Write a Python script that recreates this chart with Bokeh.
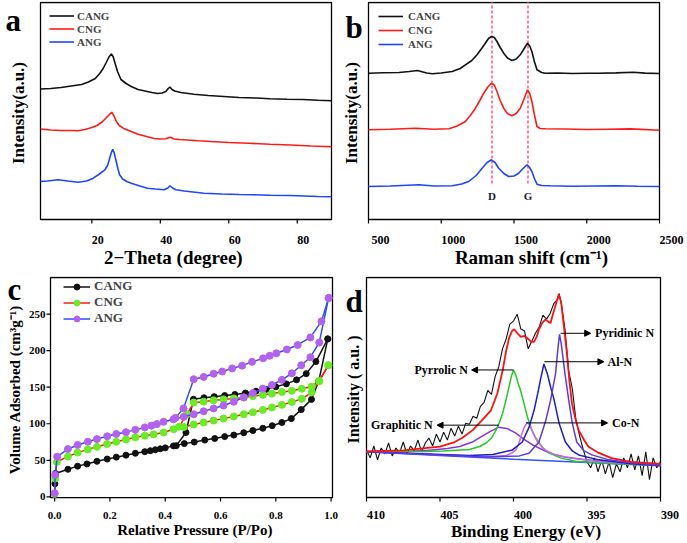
from bokeh.plotting import figure
from bokeh.layouts import column, row
from bokeh.models import (Range1d, Label, Legend, LegendItem, FixedTicker, Arrow, NormalHead,
                          NumeralTickFormatter, LinearAxis)
from bokeh.embed import file_html
from bokeh.resources import INLINE

FONT = "Liberation Serif"

# ---------------- panel a : XRD ----------------
xrd_cang_x = [5, 8, 11, 14, 17, 19, 21, 22.3, 23.3, 24.2, 25.0, 25.7, 26.2, 26.8, 27.5, 28.5, 30, 31.5, 33.5,
              35.5, 37.5, 39.2, 40.5, 41.6, 42.3, 42.8, 43.4, 44.2, 46, 49.8, 54, 58.5, 63, 68, 72, 77, 81.7, 86, 90]
xrd_cang_y = [130.5, 131, 132, 133.5, 135, 137.5, 141, 146, 151, 157, 162.5, 165.5, 163, 156, 148, 140, 136, 133,
              130, 128.5, 127, 126, 126.5, 128, 131, 132.5, 130, 128.5, 127, 125.3, 124, 123, 122, 121.5, 120.8,
              120.3, 120, 119.3, 118.7]
xrd_cng_x = [5, 8, 11, 14, 16, 18, 20, 21.5, 23, 24, 25, 25.8, 26.4, 27.1, 28, 29.5, 31.5, 33.5, 36, 38.2, 40,
             41.6, 42.9, 44, 45.5, 48, 51, 54.7, 60, 66, 72, 78, 84, 90]
xrd_cng_y = [90.5, 89.5, 89, 89, 88.8, 90, 92, 94, 97.5, 101, 104.5, 107.3, 104, 98.5, 94, 90.7, 88, 85.3, 83,
             81, 80.5, 80.7, 82.3, 80.5, 80, 79.5, 78.8, 78, 77, 76.2, 75.3, 74.5, 73.5, 72.7]
xrd_ang_x = [5, 7, 10.2, 13, 16, 18.5, 20.4, 22, 23.8, 24.6, 25.2, 25.7, 26.1, 26.5, 27.0, 27.6, 28.1, 29, 30.2,
             31.5, 34, 36.3, 38.5, 41.1, 42.2, 42.8, 43.6, 44.5, 47, 52.7, 58, 63, 67.2, 72, 77.8, 82, 86, 90]
xrd_ang_y = [38, 38.5, 39.7, 38.5, 37.3, 38.5, 41.3, 45, 49.7, 54, 61.3, 67, 70.3, 67, 59.7, 51, 44.7, 40.5, 38,
             36.3, 33.5, 31.3, 30.5, 29.7, 31.5, 33.7, 31.5, 29.7, 28.5, 26.3, 25.5, 25, 24.7, 24.3, 24, 23.5, 23,
             22.7]
xrd_ticks = [20, 40, 60, 80]

# ---------------- panel b : Raman ----------------
ram_cang_x = [500, 600, 710, 780, 836, 900, 938, 1000, 1075, 1130, 1166, 1210, 1246, 1275, 1303, 1325, 1345, 1365,
              1383, 1405, 1429, 1455, 1486, 1515, 1543, 1570, 1593, 1608, 1623, 1640, 1658, 1690, 1715, 1800, 1900,
              2000, 2080, 2200, 2320, 2400, 2500]
ram_cang_y = [146.3, 146.8, 147, 148, 149, 146.5, 145.7, 146.5, 148, 151, 154.7, 159, 164.7, 170.5, 176.3, 181,
              183, 182, 178, 172, 166.3, 161.5, 159, 160.5, 164.7, 171, 176.3, 173.5, 168, 158, 149.7, 147, 146.3,
              146.5, 146, 146.3, 146.3, 146.6, 147.3, 146.4, 146]
ram_cng_x = [500, 650, 824, 950, 1052, 1110, 1166, 1200, 1235, 1265, 1292, 1320, 1345, 1365, 1383, 1405, 1429,
             1455, 1486, 1515, 1543, 1570, 1593, 1608, 1623, 1640, 1658, 1680, 1715, 1850, 2000, 2150, 2300, 2500]
ram_cng_y = [89.7, 90.3, 91.3, 90.3, 90.7, 93.5, 98, 104, 111.3, 119, 126.3, 132.5, 136.3, 134.5, 128, 119, 111.3,
             106, 103.7, 106, 111.3, 121, 129.7, 126, 118, 105, 93, 91, 90.7, 90.5, 90, 90.3, 90.6, 89.3]
ram_ang_x = [500, 650, 847, 950, 1075, 1140, 1189, 1240, 1281, 1315, 1345, 1370, 1395, 1430, 1463, 1500, 1532,
             1562, 1589, 1605, 1623, 1640, 1658, 1690, 1750, 1900, 2050, 2200, 2350, 2500]
ram_ang_y = [33, 33.5, 34.7, 33.5, 33.7, 35.5, 38, 44, 51.3, 57, 59.7, 57, 51.3, 46, 43, 43.5, 46.3, 51, 54.7,
             52.5, 48, 41, 35.3, 34, 33.7, 33.2, 33.5, 33.8, 33.2, 33]
ram_band_names = ["D", "G"]
ram_band_pos = [1349, 1596]
ram_band_label_y = [24, 24]
ram_ticks = [500, 1000, 1500, 2000, 2500]

# ---------------- panel c : N2 isotherms ----------------
cang_ads_x = [0.0, 0.001, 0.003, 0.048, 0.083, 0.117, 0.153, 0.19, 0.223, 0.258, 0.292, 0.326, 0.346, 0.364,
              0.382, 0.40, 0.43, 0.469, 0.505, 0.543, 0.579, 0.615, 0.648, 0.684, 0.717, 0.753, 0.787, 0.822,
              0.856, 0.892, 0.929, 0.955, 0.988]
cang_ads_y = [5, 18, 32, 37.7, 42, 45, 48.6, 51.7, 54.3, 57, 59.6, 61.8, 63.1, 64.4, 65.7, 67, 69.7, 72.8, 74.9,
              77.6, 79.8, 82.4, 84.5, 87.7, 90.7, 93.8, 97.3, 101.7, 107, 119.3, 133.3, 158, 216]
cang_des_x = [0.988, 0.945, 0.91, 0.875, 0.838, 0.80, 0.765, 0.728, 0.69, 0.652, 0.615, 0.577, 0.54, 0.502,
              0.475, 0.44]
cang_des_y = [216, 185, 168.5, 160, 154.5, 150.5, 147, 144.5, 142, 140, 138.5, 137, 135.5, 133.5, 88, 70]
cng_ads_x = [0.0, 0.002, 0.008, 0.048, 0.083, 0.12, 0.153, 0.19, 0.223, 0.258, 0.292, 0.326, 0.358, 0.394,
             0.43, 0.467, 0.503, 0.539, 0.575, 0.611, 0.648, 0.684, 0.717, 0.753, 0.786, 0.822, 0.858, 0.894,
             0.93, 0.957, 0.99]
cng_ads_y = [4, 25, 47.8, 55.2, 60.5, 64.9, 68.4, 72.3, 75.4, 78.5, 81.5, 83.7, 85.5, 88, 92.5, 95.5, 99, 101.7,
             104.3, 107, 110, 113, 115.7, 118.8, 122.3, 125.8, 129.8, 134, 143, 158, 180]
cng_des_x = [0.99, 0.957, 0.93, 0.894, 0.858, 0.822, 0.786, 0.753, 0.717, 0.684, 0.648, 0.611, 0.575, 0.539,
             0.503, 0.479, 0.45]
cng_des_y = [180, 158.7, 150.8, 147.8, 145, 143.4, 141.2, 139.4, 137.7, 135.9, 134.6, 133.3, 132, 130.2, 128.9,
             113, 96]
ang_ads_x = [0.0, 0.002, 0.009, 0.048, 0.083, 0.12, 0.153, 0.19, 0.223, 0.258, 0.292, 0.326, 0.35, 0.37, 0.394,
             0.43, 0.467, 0.503, 0.539, 0.575, 0.611, 0.648, 0.684, 0.717, 0.753, 0.786, 0.822, 0.858, 0.892,
             0.925, 0.957, 0.991]
ang_ads_y = [5, 30, 55, 65.3, 71, 75.4, 79, 82.8, 86, 88.5, 91.6, 95, 97.3, 99.5, 102.6, 106, 109.5, 113, 117,
             121, 125, 130, 136, 142, 148, 153, 160, 169, 180, 191, 211, 272]
ang_des_x = [0.991, 0.965, 0.925, 0.879, 0.84, 0.802, 0.778, 0.754, 0.714, 0.678, 0.642, 0.606, 0.575, 0.539,
             0.503, 0.466, 0.437]
ang_des_y = [272, 240, 218, 207.7, 201.6, 196.4, 193, 189.4, 184.6, 179.4, 175.7, 171.4, 168.4, 164, 160.9, 121,
             108]
bet_x_ticks = [0.0, 0.2, 0.4, 0.6, 0.8, 1.0]
bet_y_ticks = [0, 50, 100, 150, 200, 250]

# ---------------- panel d : XPS N1s ----------------
xps_raw_x = [410.0, 409.75, 409.5, 409.25, 409.0, 408.75, 408.5, 408.25, 408.0, 407.75, 407.5, 407.25, 407.0,
             406.75, 406.5, 406.25, 406.0, 405.75, 405.5, 405.25, 405.0, 404.75, 404.5, 404.25, 404.0, 403.75,
             403.5, 403.25, 403.0, 402.75, 402.5, 402.25, 402.0, 401.75, 401.5, 401.25, 401.0, 400.75, 400.5,
             400.25, 400.0, 399.75, 399.5, 399.25, 399.0, 398.75, 398.5, 398.25, 398.0, 397.75, 397.5, 397.25,
             397.0, 396.9, 396.75, 396.5, 396.25, 396.0, 395.75, 395.5, 395.25, 395.0, 394.75, 394.5, 394.25,
             394.0, 393.75, 393.5, 393.25, 393.0, 392.75, 392.5, 392.25, 392.0, 391.75, 391.5, 391.25, 391.0,
             390.75, 390.5, 390.25, 390.0]
xps_raw_y = [48, 40, 52, 38, 50, 44, 55, 42, 50, 45, 56, 44, 52, 47, 58, 46, 55, 60, 52, 64, 56, 66, 58, 70, 62,
             72, 64, 75, 74, 82, 80, 92, 96, 108, 104, 122, 132, 150, 160, 175, 178, 185, 170, 168, 150, 158, 166,
             172, 184, 180, 186, 196, 200, 206, 196, 170, 128, 110, 78, 62, 48, 36, 30, 40, 26, 38, 24, 36, 20, 34,
             26, 40, 30, 44, 28, 42, 22, 46, 18, 40, 30, 36]
xps_env_x = [410, 407.5, 405, 404, 403.5, 402.77, 402.2, 401.53, 401.1, 400.74, 400.5, 400.3, 400.1, 399.95,
             399.75, 399.5, 399.25, 399.0, 398.8, 398.6, 398.4, 398.27, 398.05, 397.82, 397.6, 397.48, 397.3,
             397.19, 397.0, 396.92, 396.8, 396.74, 396.55, 396.36, 396.2, 396.02, 395.8, 395.57, 395.2, 394.9,
             394.2, 393.33, 392, 390]
xps_env_y = [46.5, 47.5, 51.3, 56, 60, 68, 77, 88, 105, 128, 148, 161, 168, 169.7, 166, 162, 163, 160, 157,
             157, 163, 169.7, 176, 179.7, 177, 176, 186, 191.3, 201, 204.7, 199, 194.7, 170, 144.7, 118, 94.7, 80,
             68, 58, 51.3, 45, 39.7, 36, 34]
xps_base_x = [410, 405, 400, 395, 390]
xps_base_y = [46.3, 42.5, 38.7, 35.3, 32]
graph_x = [410, 407, 405.9, 404.5, 403.66, 402.8, 402.3, 401.6, 401.0, 400.4, 399.84, 399.2, 398.7, 398.0,
           397.37, 396.5, 395.1, 393, 390]
graph_y = [46.5, 46.8, 47.5, 49.5, 51.5, 56, 60.5, 66.5, 71, 69.5, 65, 58, 53, 48, 44, 41, 38, 35, 32.5]
pyrrol_x = [410, 406, 404.8, 403.0, 402.3, 401.86, 401.5, 401.19, 400.95, 400.74, 400.5, 400.3, 400.15, 400.0,
            399.85, 399.7, 399.5, 399.25, 399.05, 398.8, 398.49, 398.0, 397.6, 396.8, 395.8, 393, 390]
pyrrol_y = [46.3, 46.5, 47, 48.5, 51.5, 55, 60, 68, 76, 85, 99, 112, 122, 128.5, 124, 116, 107, 93, 81, 70, 60,
            50, 45, 40, 36.5, 34, 32.3]
con_x = [410, 403, 401.4, 400.5, 400.1, 399.84, 399.65, 399.5, 399.3, 399.05, 398.85, 398.7, 398.4, 398.0,
         397.8, 397.3, 396.9, 396, 394, 390]
con_y = [46.3, 42, 41.5, 42.5, 45, 48, 54, 61, 70, 76, 72, 66, 57, 50, 47.5, 44, 42, 39.5, 36, 32.3]
aln_x = [410, 403, 401.4, 400.07, 399.4, 398.94, 398.6, 398.35, 398.15, 397.93, 397.7, 397.45, 397.26, 396.9,
         396.47, 396.0, 395.57, 394.2, 392, 390]
aln_y = [46.3, 42.5, 43.5, 48, 56, 71, 88, 105, 120, 134.7, 125, 110, 100, 75, 56, 47, 43, 38, 34, 32.3]
pyrid_x = [410, 402, 399.6, 398.95, 398.27, 397.8, 397.48, 397.14, 396.98, 396.87, 396.75, 396.5, 396.24, 396.0,
           395.7, 395.2, 394.67, 393.5, 392, 390]
pyrid_y = [46.3, 41, 42, 44.7, 56, 78, 98, 125, 150, 164.7, 155, 125, 98, 75, 56, 47, 43, 38, 35, 32.5]
xps_ticks = [410, 405, 400, 395, 390]
xps_names = ["Pyridinic N", "Al-N", "Pyrrolic N", "Co-N", "Graphitic N"]
xps_arrow_x0 = [396.8, 397.9, 400.0, 399.15, 401.0]
xps_arrow_x1 = [394.75, 393.85, 402.85, 393.6, 405.2]
xps_arrow_y = [165.7, 137, 128.7, 75.3, 73]
xps_text_x = [394.45, 393.6, 403.1, 393.3, 405.5]
xps_text_align = ["left", "left", "right", "left", "right"]

BLACK = "#111111"
RED = "#ff1a1a"
BLUE = "#1f45ff"
TICK_PX = 4      # outward tick length
PAD_PX = 5       # frame room below the plotted box for the outward ticks


def style_axis(ax):
    ax.axis_line_color = None
    ax.major_tick_line_color = None
    ax.major_tick_in = 0
    ax.major_tick_out = 0
    ax.minor_tick_line_color = None
    ax.minor_tick_in = 0
    ax.minor_tick_out = 0
    ax.axis_label_text_font = FONT
    ax.axis_label_text_font_style = "bold"
    ax.axis_label_text_color = "black"
    ax.major_label_text_font = FONT
    ax.major_label_text_font_style = "bold"
    ax.major_label_text_color = "black"


class Panel:
    """The frame spans the whole canvas width (room for the letter, the axis title and the last tick
    number) and PAD_PX below the plotted box; the box X0..X1 x Y0..Y1 runs from plot_left to
    plot_right px and is drawn as a frame line with outward ticks."""

    def __init__(self, w, h, X0, X1, Y0, Y1, plot_left, plot_right, bt, bb):
        frame_h = h - bt - bb
        self.ux = (X1 - X0) / (plot_right - plot_left)
        self.uy = (Y1 - Y0) / (frame_h - 1 - PAD_PX)
        self.X0, self.X1, self.Y0, self.Y1 = X0, X1, Y0, Y1
        p = figure(width=w, height=h, x_range=Range1d(X0 - plot_left * self.ux, X0 + (w - plot_left) * self.ux),
                   y_range=Range1d(Y0 - PAD_PX * self.uy, Y1 + self.uy), output_backend="svg",
                   toolbar_location=None, min_border_left=0, min_border_right=0, min_border_top=bt,
                   min_border_bottom=bb)
        p.outline_line_color = None
        p.xgrid.visible = False
        p.ygrid.visible = False
        self.xax = p.below[0]
        self.yax = p.left[0]
        style_axis(self.xax)
        style_axis(self.yax)
        self.xax.bounds = (min(X0, X1), max(X0, X1))
        self.yax.fixed_location = X0
        p.quad(left=[X0], right=[X1], bottom=[Y0], top=[Y1], fill_color=None, line_color="black",
               line_width=1.3)
        self.p = p

    def xticks(self, ticks):
        self.xax.ticker = FixedTicker(ticks=ticks)
        self.p.segment(x0=ticks, y0=[self.Y0] * len(ticks), x1=ticks,
                       y1=[self.Y0 - TICK_PX * self.uy] * len(ticks), line_color="black", line_width=1.2)

    def yticks(self, ticks):
        self.yax.ticker = FixedTicker(ticks=ticks)
        self.p.segment(x0=[self.X0] * len(ticks), y0=ticks, x1=[self.X0 - TICK_PX * self.ux] * len(ticks),
                       y1=ticks, line_color="black", line_width=1.2)

    def no_yticks(self):
        self.yax.ticker = FixedTicker(ticks=[])

    def shifted_labels(self, ticks, shift_px, s1, size="12px"):
        """Tick numbers sit on a second axis whose range is offset so that each number starts at its
        tick, as in the reference."""
        self.xticks(ticks)
        self.xax.major_label_text_color = None
        self.xax.major_label_text_alpha = 0
        self.xax.major_label_text_font_size = "1px"
        self.xax.major_label_standoff = 0
        p = self.p
        d = shift_px * self.ux
        p.extra_x_ranges = {"lbl": Range1d(p.x_range.start - d, p.x_range.end - d)}
        la = LinearAxis(x_range_name="lbl", ticker=FixedTicker(ticks=ticks))
        style_axis(la)
        la.major_label_standoff = s1
        la.major_label_text_font_size = size
        p.add_layout(la, "below")

    def axis_title(self, text, center, standoff, size):
        """x-axis title centred where the reference centres it (under the plotted box)."""
        ta = LinearAxis(ticker=FixedTicker(ticks=[center]), major_label_overrides={center: text})
        style_axis(ta)
        ta.major_label_standoff = standoff
        ta.major_label_text_font_size = size
        self.p.add_layout(ta, "below")


def letter(p, s, x, y):
    p.add_layout(Label(x=x, y=y, x_units="screen", y_units="screen", text=s, text_align="left",
                       text_baseline="alphabetic", text_font=FONT, text_font_style="bold",
                       text_font_size="31px", text_color="black"))


def legend(p, items, loc, size, glyph_w, item_h, standoff):
    lg = Legend(items=items, location=loc, margin=0, padding=2, spacing=0,
                glyph_width=glyph_w, glyph_height=item_h, label_height=item_h, label_standoff=standoff,
                label_text_font=FONT, label_text_font_style="bold", label_text_font_size=size,
                border_line_alpha=0, background_fill_alpha=0)
    p.add_layout(lg)


# ---- a ----  plotted box: page x 40..331, y 1..219
A = Panel(340, 270, 5, 90, 0, 217, 40, 331, 1, 46)
pa = A.p
A.no_yticks()
A.yax.axis_label = "Intensity(a.u.)"
A.yax.axis_label_text_font_size = "17px"
A.yax.axis_label_standoff = 13
A.shifted_labels(xrd_ticks, 6, 11)
A.axis_title("2\u2212Theta (degree)", 43.8, 0, "19px")
ra1 = pa.line(xrd_cang_x, xrd_cang_y, line_color=BLACK, line_width=1.6)
ra2 = pa.line(xrd_cng_x, xrd_cng_y, line_color=RED, line_width=1.6)
ra3 = pa.line(xrd_ang_x, xrd_ang_y, line_color=BLUE, line_width=1.6)
legend(pa, [LegendItem(label="CANG", renderers=[ra1]), LegendItem(label="CNG", renderers=[ra2]),
            LegendItem(label="ANG", renderers=[ra3])], (47, 174), "11px", 25, 13, 3)
letter(pa, "a", 5, 204)

# ---- b ----  plotted box: page x 368..659 (canvas 28..319), y 1..219
B = Panel(347, 270, 500, 2500, 0, 217, 28, 319, 1, 46)
pb = B.p
B.no_yticks()
B.yax.axis_label = "Intensity(a.u.)"
B.yax.axis_label_text_font_size = "17px"
B.yax.axis_label_standoff = 8
B.shifted_labels(ram_ticks, 12, 11)
B.axis_title("Raman shift (cm\u207b\u00b9)", 1620, 0, "19px")
for xb in ram_band_pos:
    pb.line([xb, xb], [36, 217], line_color="#ff7f9f", line_width=2, line_dash="3 2")
rb1 = pb.line(ram_cang_x, ram_cang_y, line_color=BLACK, line_width=1.6)
rb2 = pb.line(ram_cng_x, ram_cng_y, line_color=RED, line_width=1.6)
rb3 = pb.line(ram_ang_x, ram_ang_y, line_color=BLUE, line_width=1.6)
pb.text(x=ram_band_pos, y=ram_band_label_y, text=ram_band_names, text_align="center", text_baseline="middle",
        text_font={"value": FONT}, text_font_style="bold", text_font_size="11px", text_color="#1a1a3a")
legend(pb, [LegendItem(label="CANG", renderers=[rb1]), LegendItem(label="CNG", renderers=[rb2]),
            LegendItem(label="ANG", renderers=[rb3])], (36, 171), "11px", 25, 14, 5)
letter(pb, "b", 5, 197)

# ---- c ----  plotted box: page x 50..332, y 275..500
C = Panel(340, 273, -0.015, 1.005, -1, 300, 50, 332, 5, 38)
pc = C.p
C.xticks(bet_x_ticks)
C.yticks(bet_y_ticks)
C.xax.formatter = NumeralTickFormatter(format="0.0")
for ax in (C.xax, C.yax):
    ax.major_label_text_font_size = "11px"
C.yax.major_label_standoff = 5
C.xax.major_label_standoff = 9
C.axis_title("Relative Pressure (P/Po)", 0.507, 0, "15px")
C.yax.axis_label = "Volume Adsorbed (cm\u00b3g\u207b\u00b9)"
C.yax.axis_label_text_font_size = "15px"
C.yax.axis_label_standoff = 3
GREEN_M = "#66ee22"
PURPLE_M = "#b362f0"
C_BLUE = "#2b4cff"
rc1 = pc.line(cang_ads_x, cang_ads_y, line_color=BLACK, line_width=1.5)
pc.line(cang_des_x, cang_des_y, line_color=BLACK, line_width=1.5)
sc1 = pc.scatter(cang_ads_x + cang_des_x, cang_ads_y + cang_des_y, size=6, fill_color=BLACK, line_color=BLACK)
rc2 = pc.line(cng_ads_x, cng_ads_y, line_color=RED, line_width=1.5)
pc.line(cng_des_x, cng_des_y, line_color=RED, line_width=1.5)
sc2 = pc.scatter(cng_ads_x + cng_des_x, cng_ads_y + cng_des_y, size=7, fill_color=GREEN_M, line_color=GREEN_M)
rc3 = pc.line(ang_ads_x, ang_ads_y, line_color=C_BLUE, line_width=1.5)
pc.line(ang_des_x, ang_des_y, line_color=C_BLUE, line_width=1.5)
sc3 = pc.scatter(ang_ads_x + ang_des_x, ang_ads_y + ang_des_y, size=7, fill_color=PURPLE_M, line_color=PURPLE_M)
legend(pc, [LegendItem(label="CANG", renderers=[rc1, sc1]), LegendItem(label="CNG", renderers=[rc2, sc2]),
            LegendItem(label="ANG", renderers=[rc3, sc3])], (61, 174), "13px", 27, 15, 4)
letter(pc, "c", 7, 213)

# ---- d ----  plotted box: page x 366..660 (canvas 26..320), y 276..498
D = Panel(347, 273, 410, 390, 0, 222, 26, 320, 6, 40)
pd_ = D.p
D.no_yticks()
D.yax.axis_label = "Intensity ( a.u. )"
D.yax.axis_label_text_font_size = "16px"
D.yax.axis_label_standoff = 5
D.shifted_labels(xps_ticks, 9.5, 8)
D.axis_title("Binding Energy (eV)", 399.15, 0, "17px")
pd_.line(xps_raw_x, xps_raw_y, line_color=BLACK, line_width=1.1)
pd_.line(xps_base_x, xps_base_y, line_color="#3355ff", line_width=1.5)
pd_.line(graph_x, graph_y, line_color="#8833dd", line_width=1.5)
pd_.line(pyrrol_x, pyrrol_y, line_color="#22cc22", line_width=1.5)
pd_.line(con_x, con_y, line_color="#cc66ee", line_width=1.5)
pd_.line(aln_x, aln_y, line_color="#1c1cc8", line_width=1.5)
pd_.line(pyrid_x, pyrid_y, line_color="#5b3be0", line_width=1.5)
pd_.line(xps_env_x, xps_env_y, line_color="#ff1010", line_width=1.8)
for name, x0, x1, yy, tx, al in zip(xps_names, xps_arrow_x0, xps_arrow_x1, xps_arrow_y, xps_text_x,
                                    xps_text_align):
    pd_.add_layout(Arrow(x_start=x0, y_start=yy, x_end=x1, y_end=yy, line_color="black", line_width=1,
                         end=NormalHead(size=6, fill_color="black", line_color="black")))
    pd_.add_layout(Label(x=tx, y=yy, text=name, text_align=al, text_baseline="middle", text_font=FONT,
                         text_font_style="bold", text_font_size="12px", text_color="black"))
letter(pd_, "d", 5, 201)

layout = column(row(pa, pb), row(pc, pd_))
open("out.html", "w").write(file_html(layout, INLINE))
